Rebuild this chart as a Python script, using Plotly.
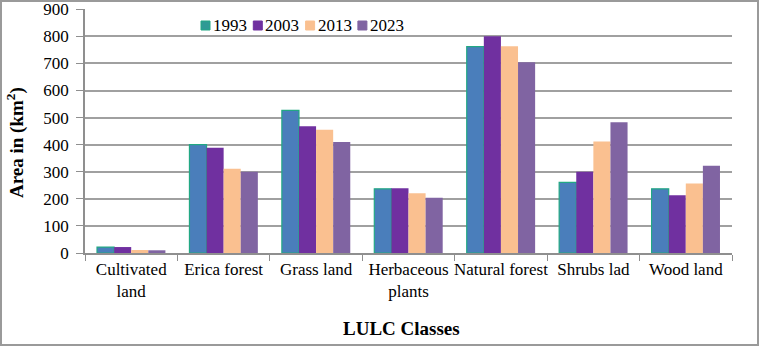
import plotly.graph_objects as go

categories = ["Cultivated<br>land", "Erica forest", "Grass land", "Herbaceous<br>plants",
              "Natural forest", "Shrubs lad", "Wood land"]
years = ["1993", "2003", "2013", "2023"]
v1993 = [22, 400, 527, 237, 762, 261, 237]
v2003 = [22, 389, 468, 239, 800, 300, 213]
v2013 = [11, 311, 455, 221, 763, 412, 257]
v2023 = [10, 300, 410, 204, 704, 483, 322]
series = [v1993, v2003, v2013, v2023]
y_ticks = [0, 100, 200, 300, 400, 500, 600, 700, 800, 900]

fills = ["#4A7EBB", "#7030A0", "#FAC090", "#8064A2"]
borders = ["#22A884", "#7030A0", "#FAC090", "#8064A2"]
border_w = [1.2, 0, 0, 0]

FONT = "Liberation Serif"
W, H = 760, 347
L, R, T, B = 85, 28, 9, 94
PW, PH = W - L - R, H - T - B

fig = go.Figure()
for name, vals, fc, bc, bw in zip(years, series, fills, borders, border_w):
    fig.add_trace(go.Bar(x=categories, y=vals, name=name,
                         marker=dict(color=fc, line=dict(color=bc, width=bw))))

def px_x(x):
    return (x - L) / PW

def px_y(y):
    return (H - B - y) / PH

shapes = []
annotations = []
# outer chart border
shapes.append(dict(type="rect", xref="paper", yref="paper",
                   x0=px_x(1), x1=px_x(758), y0=px_y(345), y1=px_y(1),
                   line=dict(color="#9a9a9a", width=2), fillcolor="rgba(0,0,0,0)", layer="below"))
# manual compact legend
leg_x0, leg_pitch, sq = 201, 52.3, 9
for i, (name, fc, bc) in enumerate(zip(years, fills, borders)):
    x = leg_x0 + i * leg_pitch
    shapes.append(dict(type="rect", xref="paper", yref="paper",
                       x0=px_x(x), x1=px_x(x + sq), y0=px_y(30), y1=px_y(21),
                       fillcolor=fc if i else "#2F9A95",
                       line=dict(color=bc, width=1)))
    annotations.append(dict(xref="paper", yref="paper", x=px_x(x + sq + 1), y=px_y(25.5),
                            text=name, showarrow=False, xanchor="left", yanchor="middle",
                            font=dict(family=FONT, size=17, color="#000")))

# axis titles
annotations.append(dict(xref="paper", yref="paper", x=px_x(401), y=px_y(328),
                        text="<b>LULC Classes</b>", showarrow=False,
                        xanchor="center", yanchor="middle",
                        font=dict(family=FONT, size=19, color="#000")))
annotations.append(dict(xref="paper", yref="paper", x=px_x(15), y=px_y(143),
                        text="<b>Area in (km<sup>2</sup>)</b>", showarrow=False, textangle=-90,
                        xanchor="center", yanchor="middle",
                        font=dict(family=FONT, size=19, color="#000")))

fig.update_layout(
    width=W, height=H,
    margin=dict(l=L, r=R, t=T, b=B),
    paper_bgcolor="white", plot_bgcolor="white",
    barmode="group", bargap=0.26, bargroupgap=0,
    showlegend=False,
    font=dict(family=FONT, size=17, color="#000"),
    shapes=shapes, annotations=annotations,
    xaxis=dict(showline=True, linecolor="#8f8f8f", linewidth=1.5,
               ticks="outside", tickson="boundaries", ticklen=6, tickcolor="#8f8f8f",
               tickangle=0,
               tickfont=dict(family=FONT, size=17, color="#000"),
               automargin=False),
    yaxis=dict(range=[0, 901], tickvals=y_ticks, showline=True, linecolor="#8f8f8f", linewidth=1.5,
               ticks="outside", ticklen=7, tickcolor="#8f8f8f", ticklabelstandoff=4,
               showgrid=True, gridcolor="#a0a0a0", gridwidth=1.5, zeroline=False,
               tickfont=dict(family=FONT, size=17, color="#000"),
               automargin=False),
)

fig.write_html("out.html", config={"displayModeBar": False},
               post_script="document.body.style.margin='0';document.body.style.padding='0';")
